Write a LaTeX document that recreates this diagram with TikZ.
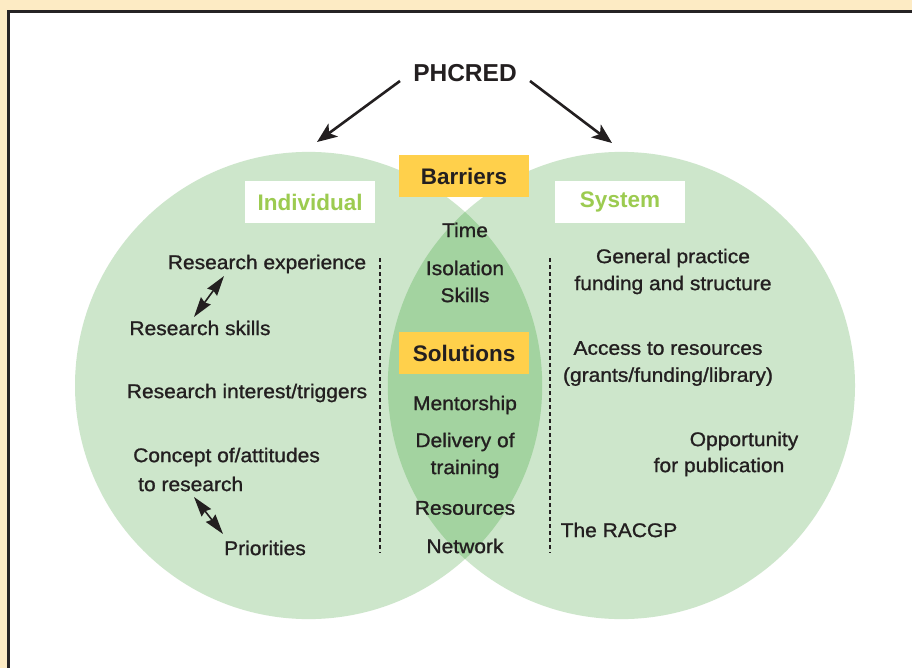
\documentclass[tikz,border=0pt]{standalone}
\usepackage{fontspec}
\setmainfont{Liberation Sans}
\newfontfamily\bodyfont[FakeBold=1.1, FakeStretch=1.06]{Liberation Sans}
\usetikzlibrary{arrows.meta}
\definecolor{cream}{HTML}{FDEBC4}
\definecolor{frame}{HTML}{262324}
\definecolor{circlegreen}{HTML}{CDE6CB}
\definecolor{lensgreen}{HTML}{A3D3A0}
\definecolor{tagyellow}{HTML}{FFD04B}
\definecolor{titlegreen}{HTML}{9CCB50}
\definecolor{ink}{HTML}{231F20}
\begin{document}
\begin{tikzpicture}[x=1pt,y=-1pt,
  body/.style={font=\bodyfont\fontsize{19.8}{27}\selectfont, text=ink, inner sep=0pt, align=center},
  tag/.style={fill=tagyellow, minimum width=130pt, minimum height=42pt, inner sep=0pt,
    font=\bfseries\fontsize{22.5}{26}\selectfont, text=ink},
  sidetitle/.style={fill=white, minimum width=130pt, minimum height=42pt, inner sep=0pt,
    font=\bfseries\fontsize{22.5}{26}\selectfont, text=titlegreen},
  divider/.style={ink, line width=1.3pt, dash pattern=on 4pt off 3pt},
  flow/.style={ink, line width=2.6pt, -{Stealth[length=20pt, width=16pt, inset=5pt]}},
  link/.style={ink, line width=1.6pt, {Stealth[length=20pt, width=12pt, inset=2pt]}-{Stealth[length=20pt, width=12pt, inset=2pt]}}
]
\useasboundingbox (0,0) rectangle (912,668);
% page background and panel frame
\fill[cream] (0,0) rectangle (912,668);
\begin{scope}
  \clip (0,0) rectangle (912,668);
  \filldraw[fill=white, draw=frame, line width=3pt] (8.5,11.5) rectangle (960,720);
\end{scope}

% the two overlapping circles
\fill[circlegreen] (308.6,385.5) circle[radius=233.6pt];
\fill[circlegreen] (621.4,385.5) circle[radius=233.6pt];
\begin{scope}
  \clip (308.6,385.5) circle[radius=233.6pt];
  \fill[lensgreen] (621.4,385.5) circle[radius=233.6pt];
\end{scope}

% headings
\node[font=\bfseries\fontsize{24.5}{28}\selectfont, text=ink] (phcred) at (465,73) {PHCRED};
\coordinate (lstart) at (400,81);
\coordinate (lend) at (317,142);
\coordinate (rstart) at (530,81);
\coordinate (rend) at (612,143);
\draw[flow] (lstart) -- (lend);
\draw[flow] (rstart) -- (rend);

\node[tag] (barriers) at (464,176) {Barriers};
\node[tag] (solutions) at (464,353) {Solutions};
\node[sidetitle] (individual) at (310,202) {Individual};
\node[sidetitle] (system) at (620,202) {System};

% dividers
\coordinate (d1a) at (380,258);
\coordinate (d1b) at (380,553);
\coordinate (d2a) at (550,258);
\coordinate (d2b) at (550,553);
\draw[divider] (d1a) -- (d1b);
\draw[divider] (d2a) -- (d2b);

% centre column
\node[body] (time) at (465,230) {Time};
\node[body] (isolation) at (465,281.5) {Isolation\\Skills};
\node[body] (mentorship) at (465,405) {Mentorship};
\node[body] (delivery) at (465,455.5) {Delivery of\\training};
\node[body] (resources) at (465,508) {Resources};
\node[body] (network) at (465,546) {Network};

% individual column
\node[body] (experience) at (267,264) {Research experience};
\node[body] (skills) at (200,328) {Research skills};
\node[body] (interest) at (247,393) {Research interest/triggers};
\node[body, anchor=west] (concept) at (133,457) {Concept of/attitudes};
\node[body, anchor=west] (toresearch) at (138,484) {to research};
\node[body] (priorities) at (265,548) {Priorities};
\coordinate (e1) at (224,276);
\coordinate (e2) at (194,317);
\coordinate (c1) at (194,497);
\coordinate (c2) at (223,534);
\draw[link] (e1) -- (e2);
\draw[link] (c1) -- (c2);

% system column
\node[body] (general) at (673,271.5) {General practice\\funding and structure};
\node[body] (access) at (668,363.5) {Access to resources\\(grants/funding/library)};
\node[body] (opportunity) at (744,441) {Opportunity};
\node[body] (publication) at (719,467) {for publication};
\node[body] (racgp) at (619,530) {The RACGP};
\end{tikzpicture}
\end{document}
